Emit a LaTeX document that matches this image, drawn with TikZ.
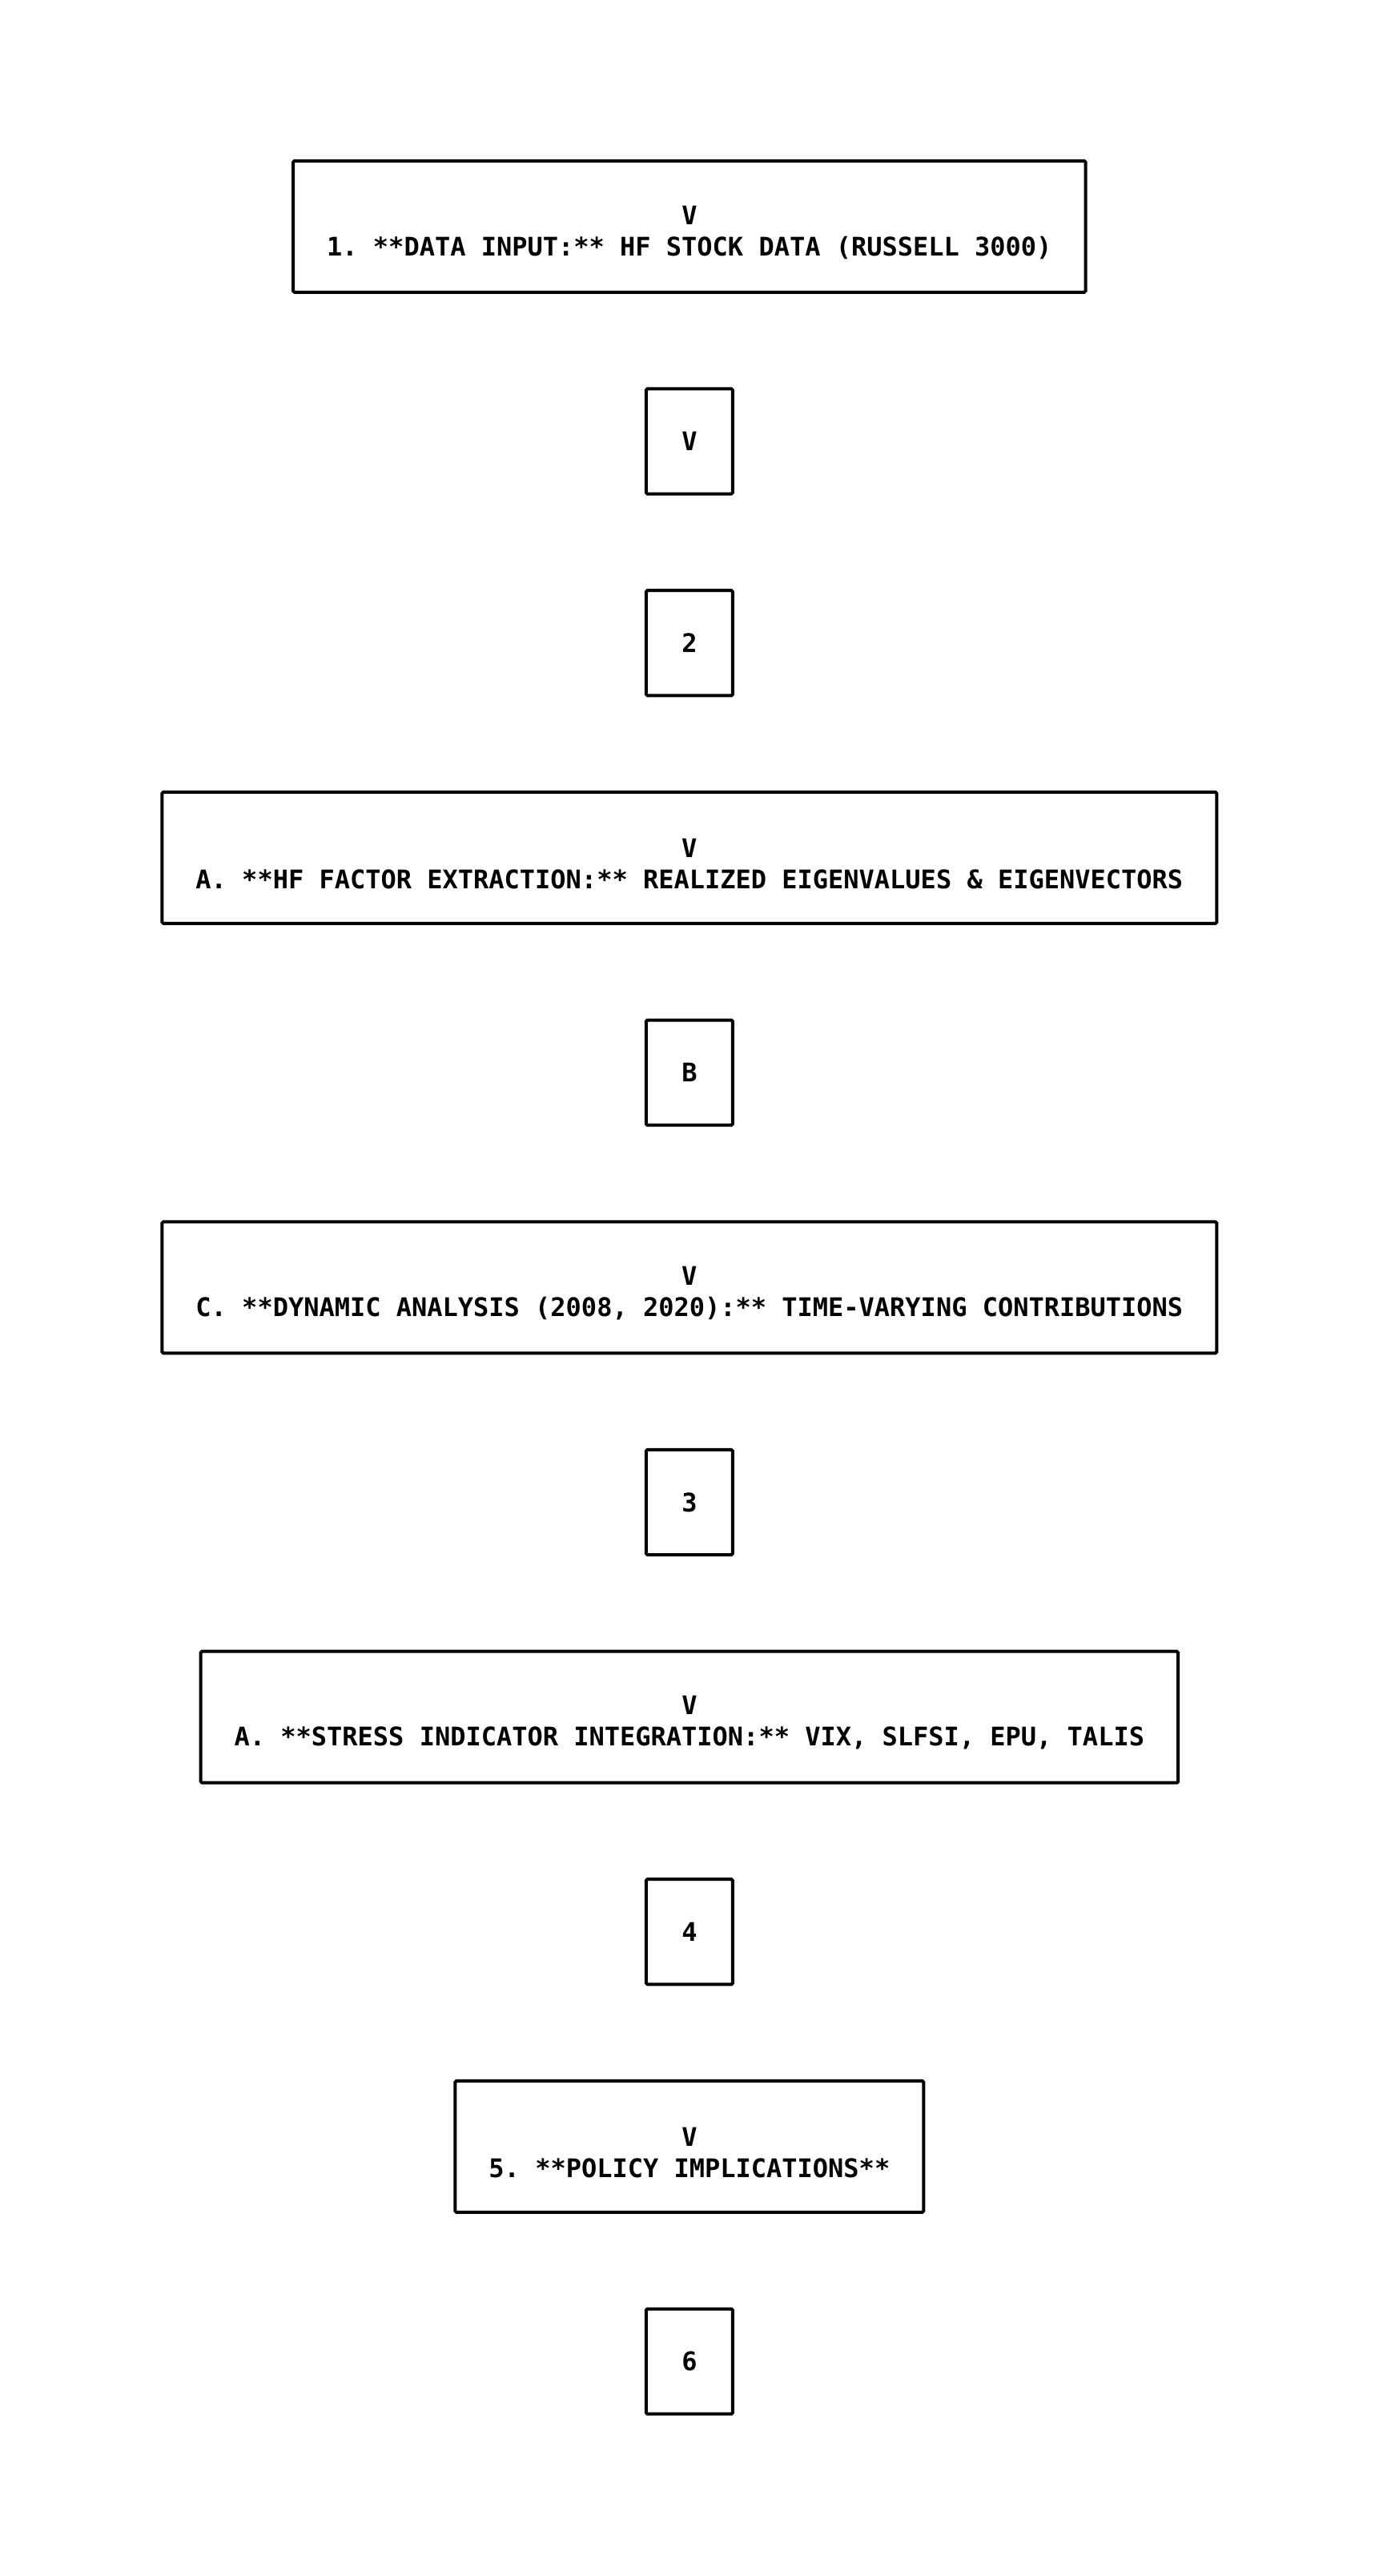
\documentclass[tikz,border=0pt]{standalone}
\usepackage{fontspec}
\setmonofont{DejaVu Sans Mono}
\usetikzlibrary{positioning}

\tikzset{every picture/.style={line width=2pt}}
\tikzset{
	stagefont/.style={font=\ttfamily\bfseries\fontsize{16}{19.5}\selectfont},
	bigbox/.style={draw, rounded corners=0.8pt, stagefont, align=center, inner xsep=21pt, minimum height=82pt},
	smallbox/.style={draw, rounded corners=0.8pt, stagefont, inner sep=0pt, minimum width=54pt, minimum height=65.6pt}
}

\begin{document}
\begin{tikzpicture}[x=1.025pt,y=-1.025pt,node distance=58.3pt]
		\useasboundingbox (0,0) rectangle (840,1569);
		
		% Stage 1
		\node [bigbox] (input) at (420,138) {\rule{0pt}{19pt}V\\1. **DATA INPUT:** HF STOCK DATA (RUSSELL 3000)};
		\node [smallbox, below=of input] (markV) {V};
		\node [smallbox, below=of markV] (mark2) {2};
		
		% Stage 2
		\node [bigbox, below=of mark2] (extract) {\rule{0pt}{19pt}V\\A. **HF FACTOR EXTRACTION:** REALIZED EIGENVALUES \& EIGENVECTORS};
		\node [smallbox, below=of extract] (markB) {B};
		\node [bigbox, below=of markB] (dynamic) {\rule{0pt}{19pt}V\\C. **DYNAMIC ANALYSIS (2008, 2020):** TIME-VARYING CONTRIBUTIONS};
		\node [smallbox, below=of dynamic] (mark3) {3};
		
		% Stage 3
		\node [bigbox, below=of mark3] (stress) {\rule{0pt}{19pt}V\\A. **STRESS INDICATOR INTEGRATION:** VIX, SLFSI, EPU, TALIS};
		\node [smallbox, below=of stress] (mark4) {4};
		
		% Stage 5
		\node [bigbox, below=of mark4] (policy) {\rule{0pt}{19pt}V\\5. **POLICY IMPLICATIONS**};
		\node [smallbox, below=of policy] (mark6) {6};
	\end{tikzpicture}
\end{document}
